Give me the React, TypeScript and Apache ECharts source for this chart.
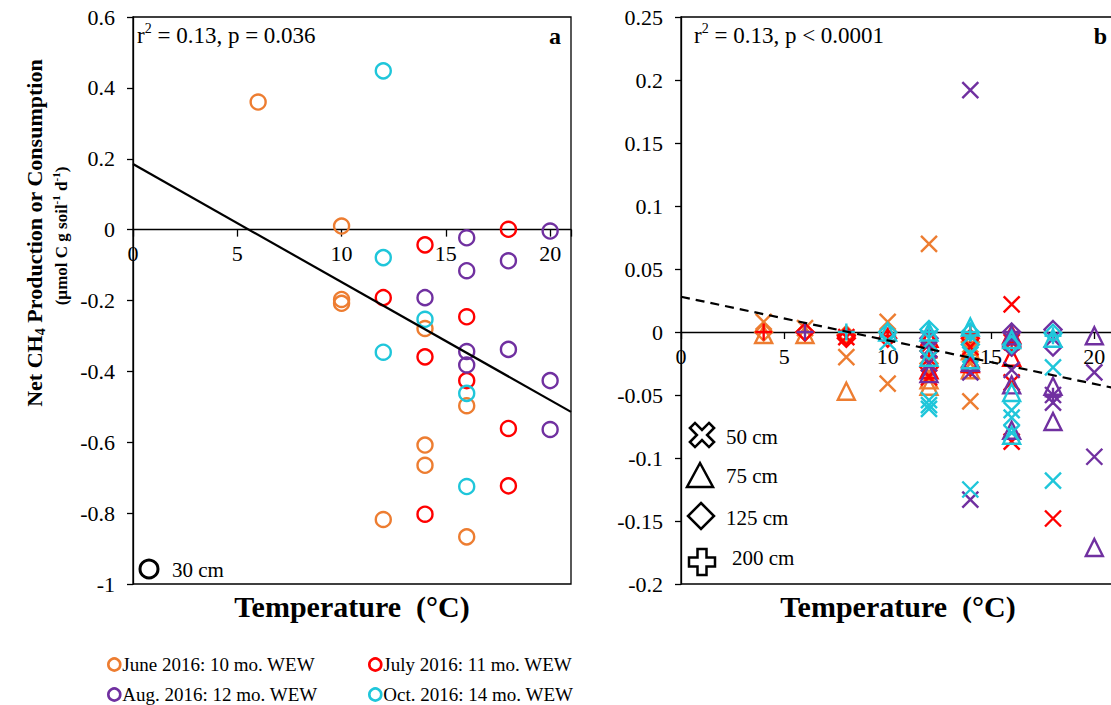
import React, { useEffect, useRef } from "react";
import * as echarts from "echarts";

const FONT = "'Liberation Serif', 'Times New Roman', serif";

const MONTHS = [
  "June 2016: 10 mo. WEW",
  "July 2016: 11 mo. WEW",
  "Aug. 2016: 12 mo. WEW",
  "Oct. 2016: 14 mo. WEW",
];
const COLORS = ["#ED7D31", "#FF0000", "#7030A0", "#1FC6DA"];

// Panel a (30 cm) : [temperature, value]
const juneA = [[6, 0.36], [10, 0.01], [10, -0.197], [10, -0.208], [12, -0.818], [14, -0.279], [14, -0.608], [14, -0.665], [16, -0.497], [16, -0.867]];
const julyA = [[12, -0.192], [14, -0.043], [14, -0.359], [14, -0.803], [16, -0.246], [16, -0.426], [18, 0.001], [18, -0.561], [18, -0.723]];
const augA = [[14, -0.192], [16, -0.023], [16, -0.116], [16, -0.344], [16, -0.382], [18, -0.088], [18, -0.338], [20, -0.004], [20, -0.426], [20, -0.564]];
const octA = [[12, 0.448], [12, -0.079], [12, -0.346], [14, -0.253], [16, -0.462], [16, -0.725]];
const trendA = { intercept: 0.185, slope: -0.0333 };

// Panel b : depths 50, 75, 125, 200 cm per month
const june50 = [[4, 0.008], [6, 0.003], [8, -0.02], [10, 0.008], [10, -0.041], [12, 0.07], [14, -0.055], [14, -0.025], [14, -0.01]];
const june75 = [[4, -0.002], [6, -0.002], [8, -0.047], [12, -0.043], [12, -0.038], [14, -0.03], [14, -0.015]];
const june125 = [[4, 0], [6, 0], [8, -0.002], [10, 0], [12, -0.025], [14, -0.008]];
const june200 = [[12, -0.02], [14, -0.018]];

const july50 = [[8, -0.004], [12, -0.01], [12, -0.036], [14, -0.012], [16, 0.022], [16, -0.008], [16, -0.04], [16, -0.087], [18, -0.148]];
const july75 = [[12, -0.005], [12, -0.03], [14, -0.025], [16, -0.002], [16, -0.02]];
const july125 = [[6, 0], [8, -0.003], [8, -0.005], [10, -0.005], [12, -0.015], [12, -0.028], [14, -0.005], [14, -0.028], [16, -0.012]];
const july200 = [[4, 0], [10, -0.003], [12, -0.02], [14, -0.002], [16, -0.008]];

const aug50 = [[12, -0.014], [12, -0.025], [14, 0.192], [14, -0.032], [14, -0.133], [16, -0.03], [18, -0.05], [18, -0.056], [20, -0.032], [20, -0.099]];
const aug75 = [[12, -0.033], [14, -0.024], [16, -0.003], [16, -0.042], [16, -0.078], [18, -0.043], [18, -0.071], [20, -0.003], [20, -0.171]];
const aug125 = [[12, -0.005], [16, 0], [16, -0.012], [18, 0.002], [18, -0.012]];
const aug200 = [[6, 0], [12, 0], [16, 0], [18, -0.051]];

const oct50 = [[10, -0.008], [12, -0.054], [12, -0.058], [12, -0.061], [14, -0.018], [14, -0.125], [16, -0.062], [16, -0.068], [16, -0.08], [18, -0.028], [18, -0.118]];
const oct75 = [[10, 0], [12, 0], [12, -0.02], [14, 0.004], [14, -0.022], [16, -0.006], [16, -0.048], [16, -0.082], [18, -0.005]];
const oct125 = [[10, 0], [12, 0.002], [12, -0.015], [14, 0], [14, -0.01], [16, -0.01], [18, -0.001]];
const oct200 = [[8, 0], [12, 0], [14, 0], [18, -0.003]];
const trendB = { intercept: 0.028, slope: -0.00346 };

const X_TICKS = { min: 0, max: 21, interval: 5 };
const Y_A = { min: -1, max: 0.6, interval: 0.2 };
const Y_B = { min: -0.2, max: 0.25, interval: 0.05 };

const PANEL_A = [juneA, julyA, augA, octA];
const PANEL_B = [
  [june50, june75, june125, june200],
  [july50, july75, july125, july200],
  [aug50, aug75, aug125, aug200],
  [oct50, oct75, oct125, oct200],
];
const DEPTH_LABELS = ["50 cm", "75 cm", "125 cm", "200 cm"];
const DEPTH_SYMBOLS = [
  "path://M0,0L16,16M16,0L0,16",
  "triangle",
  "diamond",
  "path://M8,0L8,16M0,8L16,8",
];

const GRID_H = 567;

function plusPoints(cx: number, cy: number, a: number, L: number, rot: number) {
  const base = [
    [-a, -L], [a, -L], [a, -a], [L, -a], [L, a], [a, a],
    [a, L], [-a, L], [-a, a], [-L, a], [-L, -a], [-a, -a],
  ];
  const c = Math.cos(rot), s = Math.sin(rot);
  return base.map(([x, y]) => [cx + x * c - y * s, cy + x * s + y * c]);
}

function buildOption() {
  // x axis drawn at value 0 of the y axis (offset from the bottom of the grid)
  const xAxis = (gridIndex: number, yr: { min: number; max: number }) => ({
    type: "value",
    gridIndex,
    min: X_TICKS.min,
    max: X_TICKS.max,
    interval: X_TICKS.interval,
    position: "bottom",
    offset: -GRID_H * (0 - yr.min) / (yr.max - yr.min),
    axisLine: { onZero: false, lineStyle: { color: "#000", width: 1.3 } },
    axisTick: { show: true, length: 7, lineStyle: { color: "#000", width: 1.3 } },
    axisLabel: {
      color: "#000",
      fontFamily: FONT,
      fontSize: 22,
      margin: 13,
      formatter: (v: number) => (v % 5 === 0 ? String(v) : ""),
    },
    splitLine: { show: false },
  });
  const yAxis = (gridIndex: number, r: { min: number; max: number; interval: number }) => ({
    type: "value",
    gridIndex,
    min: r.min,
    max: r.max,
    interval: r.interval,
    axisLine: { show: true, onZero: false, lineStyle: { color: "#000", width: 1.3 } },
    axisTick: { show: true, length: 6, lineStyle: { color: "#000", width: 1.3 } },
    axisLabel: { color: "#000", fontFamily: FONT, fontSize: 22, margin: 18 },
    splitLine: { show: false },
  });

  const series: any[] = [];
  PANEL_A.forEach((data, i) => {
    series.push({
      type: "scatter",
      name: MONTHS[i],
      xAxisIndex: 0,
      yAxisIndex: 0,
      data,
      symbol: "circle",
      symbolSize: 15,
      itemStyle: { color: "rgba(0,0,0,0)", borderColor: COLORS[i], borderWidth: 2.4, opacity: 1 },
      emphasis: { disabled: true },
    });
  });
  series.push({
    type: "line",
    xAxisIndex: 0,
    yAxisIndex: 0,
    data: [X_TICKS.min, X_TICKS.max].map((t) => [t, trendA.intercept + trendA.slope * t]),
    symbol: "none",
    lineStyle: { color: "#000", width: 2.2 },
    silent: true,
    z: 3,
  });
  PANEL_B.forEach((depths, i) => {
    depths.forEach((data, d) => {
      series.push({
        type: "scatter",
        name: MONTHS[i] + " " + DEPTH_LABELS[d],
        xAxisIndex: 1,
        yAxisIndex: 1,
        data,
        symbol: DEPTH_SYMBOLS[d],
        symbolSize: d === 0 ? 16 : 17,
        itemStyle: { color: "rgba(0,0,0,0)", borderColor: COLORS[i], borderWidth: 2.4, opacity: 1 },
        emphasis: { disabled: true },
      });
    });
  });
  series.push({
    type: "line",
    xAxisIndex: 1,
    yAxisIndex: 1,
    data: [X_TICKS.min, X_TICKS.max].map((t) => [t, trendB.intercept + trendB.slope * t]),
    symbol: "none",
    lineStyle: { color: "#000", width: 2.2, type: [9, 6] },
    silent: true,
    z: 3,
  });

  const legendPos = [
    { left: 107, top: 655 },
    { left: 368, top: 655 },
    { left: 107, top: 685 },
    { left: 368, top: 685 },
  ];
  const legend = MONTHS.map((m, i) => ({
    data: [m],
    left: legendPos[i].left,
    top: legendPos[i].top,
    padding: 0,
    icon: "circle",
    itemWidth: 12,
    itemHeight: 12,
    selectedMode: false,
    itemStyle: { color: "rgba(0,0,0,0)", borderColor: COLORS[i], borderWidth: 2.6 },
    textStyle: { fontFamily: FONT, fontSize: 19, color: "#000", padding: [0, 0, 0, -3] },
  }));

  const txt = (extra: any) => ({ type: "text", silent: true, ...extra });
  const rich = (fs: number, bold = false) => ({
    n: { fontFamily: FONT, fontSize: fs, fontWeight: bold ? "bold" : "normal", color: "#000", lineHeight: fs + 4 },
    sup: { fontFamily: FONT, fontSize: Math.round(fs * 0.62), fontWeight: bold ? "bold" : "normal", color: "#000", verticalAlign: "top", lineHeight: Math.round(fs * 0.62) },
    sub: { fontFamily: FONT, fontSize: Math.round(fs * 0.62), fontWeight: bold ? "bold" : "normal", color: "#000", verticalAlign: "bottom", lineHeight: Math.round(fs * 0.62) },
  });

  const graphic: any[] = [
    txt({ x: 137, y: 35, style: { text: "{n|r}{sup|2}{n| = 0.13, p = 0.036}", rich: rich(23), verticalAlign: "middle", align: "left" } }),
    txt({ x: 694, y: 35, style: { text: "{n|r}{sup|2}{n| = 0.13, p < 0.0001}", rich: rich(23), verticalAlign: "middle", align: "left" } }),
    txt({ x: 561, y: 36, style: { text: "a", fontFamily: FONT, fontSize: 24, fontWeight: "bold", fill: "#000", align: "right", verticalAlign: "middle" } }),
    txt({ x: 1107, y: 36, style: { text: "b", fontFamily: FONT, fontSize: 24, fontWeight: "bold", fill: "#000", align: "right", verticalAlign: "middle" } }),
    txt({ x: 352, y: 606, style: { text: "Temperature  (°C)", fontFamily: FONT, fontSize: 30, fontWeight: "bold", fill: "#000", align: "center", verticalAlign: "middle" } }),
    txt({ x: 898, y: 606, style: { text: "Temperature  (°C)", fontFamily: FONT, fontSize: 30, fontWeight: "bold", fill: "#000", align: "center", verticalAlign: "middle" } }),
    txt({ x: 34, y: 233, rotation: Math.PI / 2, style: { text: "{n|Net CH}{sub|4}{n| Production or Consumption}", rich: rich(22, true), align: "center", verticalAlign: "middle" } }),
    txt({ x: 61, y: 236, rotation: Math.PI / 2, style: { text: "{n|(µmol C g soil}{sup|-1}{n| d}{sup|-1}{n|)}", rich: rich(17, true), align: "center", verticalAlign: "middle" } }),
    { type: "circle", silent: true, shape: { cx: 149, cy: 569, r: 9 }, style: { fill: "none", stroke: "#000", lineWidth: 3 } },
    txt({ x: 172, y: 570, style: { text: "30 cm", fontFamily: FONT, fontSize: 21, fill: "#000", align: "left", verticalAlign: "middle" } }),
    { type: "polygon", silent: true, shape: { points: plusPoints(702, 435, 3.6, 13.5, Math.PI / 4) }, style: { fill: "none", stroke: "#000", lineWidth: 2.5 } },
    { type: "polygon", silent: true, shape: { points: [[700, 463], [713, 487], [687, 487]] }, style: { fill: "none", stroke: "#000", lineWidth: 2.5 } },
    { type: "polygon", silent: true, shape: { points: [[701, 503], [714, 516], [701, 529], [688, 516]] }, style: { fill: "none", stroke: "#000", lineWidth: 2.5 } },
    { type: "polygon", silent: true, shape: { points: plusPoints(702, 562, 4.5, 13, 0) }, style: { fill: "none", stroke: "#000", lineWidth: 2.5 } },
    txt({ x: 726, y: 437, style: { text: "50 cm", fontFamily: FONT, fontSize: 21, fill: "#000", align: "left", verticalAlign: "middle" } }),
    txt({ x: 726, y: 476, style: { text: "75 cm", fontFamily: FONT, fontSize: 21, fill: "#000", align: "left", verticalAlign: "middle" } }),
    txt({ x: 726, y: 518, style: { text: "125 cm", fontFamily: FONT, fontSize: 21, fill: "#000", align: "left", verticalAlign: "middle" } }),
    txt({ x: 732, y: 558, style: { text: "200 cm", fontFamily: FONT, fontSize: 21, fill: "#000", align: "left", verticalAlign: "middle" } }),
  ];

  return {
    animation: false,
    backgroundColor: "#fff",
    textStyle: { fontFamily: FONT },
    grid: [
      { left: 133, top: 17, width: 438, height: GRID_H, show: true, borderColor: "#000", borderWidth: 1.3, backgroundColor: "rgba(0,0,0,0)" },
      { left: 681, top: 17, width: 434, height: GRID_H, show: true, borderColor: "#000", borderWidth: 1.3, backgroundColor: "rgba(0,0,0,0)" },
    ],
    xAxis: [xAxis(0, Y_A), xAxis(1, Y_B)],
    yAxis: [yAxis(0, Y_A), yAxis(1, Y_B)],
    legend,
    series,
    graphic,
  };
}

export default function App() {
  const ref = useRef<HTMLDivElement>(null);
  useEffect(() => {
    if (!ref.current) return;
    const chart = echarts.init(ref.current, null, { renderer: "svg" });
    chart.setOption(buildOption() as any);
    return () => chart.dispose();
  }, []);
  return (
    <div style={{ position: "fixed", left: 0, top: 0, width: 1111, height: 705, overflow: "hidden", background: "#fff" }}>
      <div ref={ref} style={{ width: 1125, height: 705 }} />
    </div>
  );
}
